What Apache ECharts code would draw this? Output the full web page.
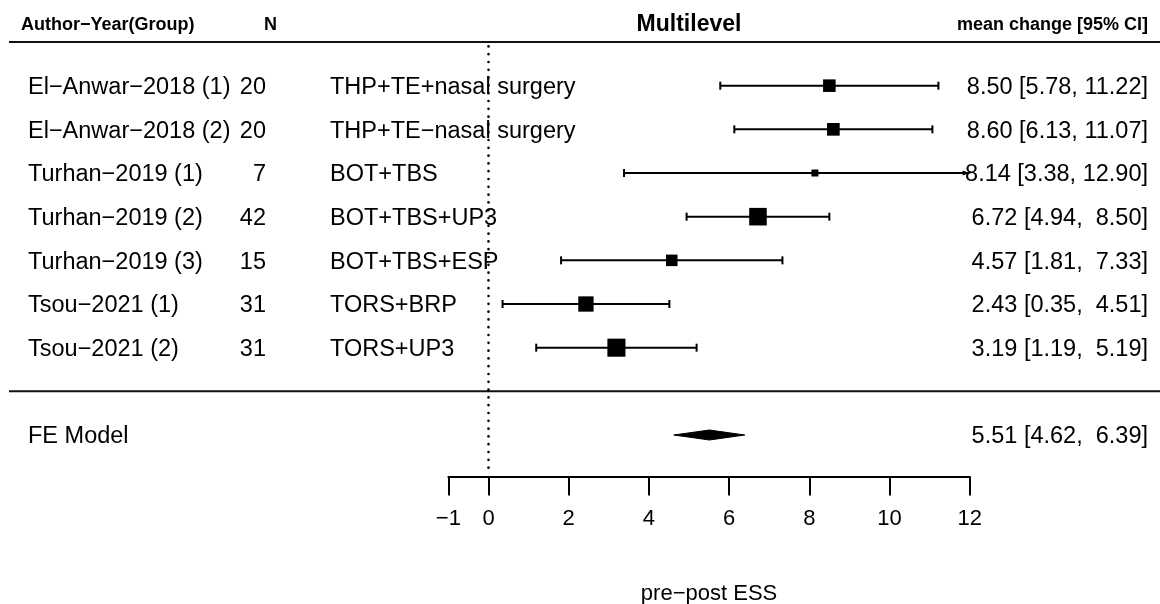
<!DOCTYPE html>
<html>
<head>
<meta charset="utf-8">
<title>Multilevel forest plot</title>
<script src="https://cdn.jsdelivr.net/npm/echarts@6/dist/echarts.min.js"></script>
<style>
  html, body { margin: 0; padding: 0; background: #ffffff; }
  #chart { width: 1160px; height: 604px; }
</style>
</head>
<body>
<div id="chart"></div>
<script>
// ---- data ----
const studies = [
  'El\u2212Anwar\u22122018 (1)',
  'El\u2212Anwar\u22122018 (2)',
  'Turhan\u22122019 (1)',
  'Turhan\u22122019 (2)',
  'Turhan\u22122019 (3)',
  'Tsou\u22122021 (1)',
  'Tsou\u22122021 (2)'
];
const sampleSizes = [20, 20, 7, 42, 15, 31, 31];
const groups = [
  'THP+TE+nasal surgery',
  'THP+TE\u2212nasal surgery',
  'BOT+TBS',
  'BOT+TBS+UP3',
  'BOT+TBS+ESP',
  'TORS+BRP',
  'TORS+UP3'
];
const estimates = [8.50, 8.60, 8.14, 6.72, 4.57, 2.43, 3.19];
const ciLower   = [5.78, 6.13, 3.38, 4.94, 1.81, 0.35, 1.19];
const ciUpper   = [11.22, 11.07, 12.90, 8.50, 7.33, 4.51, 5.19];
// relative study weights (%), shown as the size of each square
const weights   = [13.1, 13.2, 6.2, 19.3, 11.8, 16.5, 19.9];

const pooledLabel = 'FE Model';
const pooledEstimate = 5.51;
const pooledLower = 4.62;
const pooledUpper = 6.39;

const xTicks = [-1, 0, 2, 4, 6, 8, 10, 12];

const headerStudy = 'Author\u2212Year(Group)';
const headerN = 'N';
const headerTitle = 'Multilevel';
const headerEffect = 'mean change [95% CI]';
const axisTitle = 'pre\u2212post ESS';

// ---- layout ----
const FONT = '"Liberation Sans", Arial, Helvetica, sans-serif';
const ROW_SIZE = 23.5;
const HEAD_SIZE = 18;
const TEXT_DY = 2;        // optical centring of row text on its row
const X_MIN = -1, X_MAX = 12;
const Y_MIN = -1.95, Y_MAX = 8;
const COL_STUDY = 28;     // left edge of study names
const COL_N = 266;        // right edge of sample sizes
const COL_GROUP = 330;    // left edge of group names
const COL_EFFECT = 1148;  // right edge of effect text
const RULE_LEFT = 9, RULE_RIGHT = 1160;

const k = studies.length;
const rowOf = i => k - i;       // studies fill rows k..1 from the top
const pooledRow = -1;
const ruleRows = [k + 1, 0];    // header rule and the rule above the summary

// effect text: numbers padded to a common width, like a fixed-format table
const f2 = v => v.toFixed(2);
const allEst = estimates.concat([pooledEstimate]);
const allLo = ciLower.concat([pooledLower]);
const allHi = ciUpper.concat([pooledUpper]);
const wEst = Math.max(...allEst.map(v => f2(v).length));
const wLo = Math.max(...allLo.map(v => f2(v).length));
const wHi = Math.max(...allHi.map(v => f2(v).length));
const effectText = (e, lo, hi) =>
  f2(e).padStart(wEst, ' ') + ' [' + f2(lo).padStart(wLo, ' ') + ', ' + f2(hi).padStart(wHi, ' ') + ']';

const fmtTick = v => (v < 0 ? '\u2212' + Math.abs(v) : String(v));

const txt = (x, y, text, align, size, weight) => ({
  type: 'text',
  x: x, y: y,
  style: {
    text: text,
    fill: '#000',
    fontFamily: FONT,
    fontSize: size,
    fontWeight: weight || 'normal',
    align: align,
    verticalAlign: 'middle'
  },
  z2: 10
});
const rowTxt = (x, y, text, align) => txt(x, y + TEXT_DY, text, align, ROW_SIZE);

const chart = echarts.init(document.getElementById('chart'), null, { renderer: 'canvas' });

const option = {
  animation: false,
  backgroundColor: '#ffffff',
  grid: {
    left: 448.4, width: 521.3, top: 42, height: 434.5,
    containLabel: false,
    outerBoundsMode: 'none'
  },
  xAxis: {
    type: 'value',
    min: X_MIN,
    max: X_MAX,
    position: 'bottom',
    splitLine: { show: false },
    axisLine: { show: true, onZero: false, lineStyle: { color: '#000', width: 2 } },
    axisTick: {
      show: true,
      inside: false,
      length: 19,
      customValues: xTicks,
      lineStyle: { color: '#000', width: 2 }
    },
    axisLabel: {
      customValues: xTicks,
      margin: 31,
      color: '#000',
      fontFamily: FONT,
      fontSize: 22,
      formatter: fmtTick
    },
    name: axisTitle,
    nameLocation: 'middle',
    nameGap: 106,
    nameTextStyle: { color: '#000', fontFamily: FONT, fontSize: 22 }
  },
  yAxis: {
    type: 'value',
    min: Y_MIN,
    max: Y_MAX,
    show: false
  },
  graphic: [
    txt(21, 25, headerStudy, 'left', HEAD_SIZE, 'bold'),
    txt(264, 25, headerN, 'left', HEAD_SIZE, 'bold'),
    txt(689, 25, headerTitle, 'center', 23, 'bold'),
    txt(COL_EFFECT, 25, headerEffect, 'right', HEAD_SIZE, 'bold')
  ],
  series: [
    {
      // horizontal rules across the table
      name: 'rules',
      type: 'custom',
      encode: { x: 0, y: 1 },
      data: ruleRows.map(r => [0, r]),
      renderItem: function (params, api) {
        const y = api.coord([0, api.value(1)])[1];
        return {
          type: 'line',
          shape: { x1: RULE_LEFT, y1: y, x2: RULE_RIGHT, y2: y },
          style: { stroke: '#111', lineWidth: 2 }
        };
      },
      silent: true
    },
    {
      // dotted reference line at zero effect
      name: 'reference',
      type: 'custom',
      encode: { x: 0, y: 1 },
      data: [[0, 0]],
      renderItem: function (params, api) {
        const top = api.coord([0, k + 0.9]);
        const bottom = api.coord([0, -1.78]);
        return {
          type: 'line',
          shape: { x1: top[0], y1: top[1], x2: bottom[0], y2: bottom[1] },
          style: { stroke: '#000', lineWidth: 2.6, lineDash: [0.1, 7.7], lineCap: 'round' }
        };
      },
      silent: true
    },
    {
      // per-study confidence intervals, weighted squares and table text
      name: 'studies',
      type: 'custom',
      encode: { x: 0, y: 1 },
      data: estimates.map((e, i) => [e, rowOf(i)]),
      renderItem: function (params, api) {
        const i = params.dataIndex;
        const row = rowOf(i);
        const c = api.coord([estimates[i], row]);
        const y = c[1];
        const lo = Math.max(ciLower[i], X_MIN);
        const hi = Math.min(ciUpper[i], X_MAX);
        const xLo = api.coord([lo, row])[0];
        const xHi = api.coord([hi, row])[0];
        const ink = { stroke: '#000', lineWidth: 2 };
        const children = [];
        children.push({ type: 'line', shape: { x1: xLo, y1: y, x2: xHi, y2: y }, style: ink });
        // caps, or an arrow where the interval runs past the axis
        if (ciLower[i] >= X_MIN) {
          children.push({ type: 'line', shape: { x1: xLo, y1: y - 4, x2: xLo, y2: y + 4 }, style: ink });
        } else {
          children.push({ type: 'polygon', shape: { points: [[xLo, y], [xLo + 7, y - 2.5], [xLo + 7, y + 2.5]] }, style: { fill: '#000' } });
        }
        if (ciUpper[i] <= X_MAX) {
          children.push({ type: 'line', shape: { x1: xHi, y1: y - 4, x2: xHi, y2: y + 4 }, style: ink });
        } else {
          children.push({ type: 'polygon', shape: { points: [[xHi, y], [xHi - 7, y - 2.5], [xHi - 7, y + 2.5]] }, style: { fill: '#000' } });
        }
        const s = 2 + 0.807 * weights[i];
        children.push({ type: 'rect', shape: { x: c[0] - s / 2, y: y - s / 2, width: s, height: s }, style: { fill: '#000' } });
        children.push(rowTxt(COL_STUDY, y, studies[i], 'left'));
        children.push(rowTxt(COL_N, y, String(sampleSizes[i]), 'right'));
        children.push(rowTxt(COL_GROUP, y, groups[i], 'left'));
        children.push(rowTxt(COL_EFFECT, y, effectText(estimates[i], ciLower[i], ciUpper[i]), 'right'));
        return { type: 'group', children: children };
      },
      silent: true
    },
    {
      // pooled estimate as a diamond
      name: 'pooled',
      type: 'custom',
      encode: { x: 0, y: 1 },
      data: [[pooledEstimate, pooledRow]],
      renderItem: function (params, api) {
        const pL = api.coord([pooledLower, pooledRow]);
        const pE = api.coord([pooledEstimate, pooledRow]);
        const pU = api.coord([pooledUpper, pooledRow]);
        const h = 5;
        return {
          type: 'group',
          children: [
            {
              type: 'polygon',
              shape: { points: [[pL[0], pL[1]], [pE[0], pE[1] - h], [pU[0], pU[1]], [pE[0], pE[1] + h]] },
              style: { fill: '#000', stroke: '#000', lineWidth: 1 }
            },
            rowTxt(COL_STUDY, pE[1], pooledLabel, 'left'),
            rowTxt(COL_EFFECT, pE[1], effectText(pooledEstimate, pooledLower, pooledUpper), 'right')
          ]
        };
      },
      silent: true
    }
  ]
};

chart.setOption(option);
</script>
</body>
</html>
